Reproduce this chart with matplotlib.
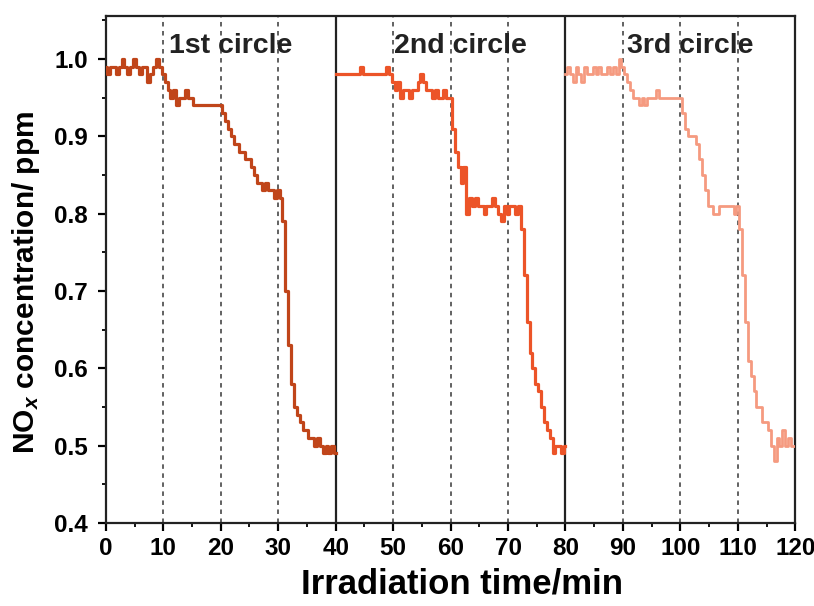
import numpy as np
import matplotlib
matplotlib.use('Agg')
import matplotlib.pyplot as plt
from matplotlib.ticker import MultipleLocator

plt.rcParams['font.family'] = ['Liberation Sans', 'DejaVu Sans']
plt.rcParams['font.weight'] = 'bold'
plt.rcParams['mathtext.fontset'] = 'custom'
plt.rcParams['mathtext.rm'] = 'Liberation Sans:bold'
plt.rcParams['mathtext.it'] = 'Liberation Sans:bold:italic'

# sampling: every 0.5 min within each 40 min cycle
step = 0.5

conc_1st = [
    0.99, 0.98, 0.99, 0.99, 0.98, 0.99, 1.00, 0.99, 0.98, 0.99,
    1.00, 0.99, 0.98, 0.99, 0.99, 0.97, 0.98, 0.99, 1.00, 0.99,
    0.98, 0.97, 0.96, 0.95, 0.96, 0.94, 0.95, 0.95, 0.96, 0.95,
    0.95, 0.94, 0.94, 0.94, 0.94, 0.94, 0.94, 0.94, 0.94, 0.94,
    0.94, 0.93, 0.92, 0.91, 0.90, 0.89, 0.89, 0.88, 0.88, 0.87,
    0.87, 0.86, 0.85, 0.84, 0.84, 0.83, 0.84, 0.83, 0.83, 0.82,
    0.83, 0.82, 0.79, 0.70, 0.63, 0.58, 0.55, 0.54, 0.53, 0.52,
    0.52, 0.51, 0.51, 0.50, 0.51, 0.50, 0.49, 0.50, 0.49, 0.50,
    0.49,
]

conc_2nd = [
    0.98, 0.98, 0.98, 0.98, 0.98, 0.98, 0.98, 0.98, 0.98, 0.99,
    0.98, 0.98, 0.98, 0.98, 0.98, 0.98, 0.98, 0.98, 0.99, 0.98,
    0.97, 0.96, 0.97, 0.95, 0.96, 0.96, 0.95, 0.96, 0.96, 0.97,
    0.98, 0.97, 0.96, 0.96, 0.95, 0.96, 0.95, 0.95, 0.96, 0.95,
    0.95, 0.91, 0.88, 0.86, 0.84, 0.86, 0.80, 0.82, 0.81, 0.82,
    0.81, 0.81, 0.80, 0.81, 0.81, 0.82, 0.81, 0.80, 0.79, 0.81,
    0.80, 0.81, 0.81, 0.80, 0.81, 0.78, 0.72, 0.66, 0.62, 0.60,
    0.58, 0.57, 0.55, 0.53, 0.52, 0.51, 0.49, 0.50, 0.50, 0.49,
    0.50,
]

conc_3rd = [
    0.98, 0.99, 0.98, 0.97, 0.99, 0.98, 0.97, 0.99, 0.98, 0.98,
    0.99, 0.98, 0.99, 0.98, 0.98, 0.99, 0.98, 0.99, 0.98, 1.00,
    0.99, 0.98, 0.97, 0.96, 0.95, 0.95, 0.94, 0.95, 0.94, 0.95,
    0.95, 0.95, 0.96, 0.95, 0.95, 0.95, 0.95, 0.95, 0.95, 0.95,
    0.95, 0.93, 0.91, 0.90, 0.90, 0.90, 0.89, 0.87, 0.85, 0.83,
    0.81, 0.81, 0.80, 0.80, 0.81, 0.81, 0.81, 0.81, 0.81, 0.80,
    0.81, 0.78, 0.72, 0.66, 0.61, 0.59, 0.57, 0.55, 0.55, 0.53,
    0.53, 0.52, 0.50, 0.48, 0.51, 0.50, 0.52, 0.50, 0.51, 0.50,
    0.50,
]

cycle_starts = [0, 40, 80]
cycle_labels = ['1st circle', '2nd circle', '3rd circle']
colors = ['#c0451a', '#ec5428', '#f59a80']
widths = [2.3, 2.3, 2.0]
dashed_x = [10, 20, 30, 50, 60, 70, 90, 100, 110]
solid_x = [40, 80]

fig = plt.figure(figsize=(8.14, 6.06), dpi=100)
ax = fig.add_axes([0.130, 0.137, 0.847, 0.836])

for start, conc, color, lw in zip(cycle_starts, [conc_1st, conc_2nd, conc_3rd],
                                  colors, widths):
    t = start + step * np.arange(len(conc))
    ax.plot(t, conc, color=color, lw=lw, drawstyle='steps-mid', zorder=3)

for x in dashed_x:
    ax.axvline(x, color='#555555', lw=1.3, ls=(0, (2.5, 2.5)), zorder=1)
for x in solid_x:
    ax.axvline(x, color='#222222', lw=1.6, zorder=1)

for start, label in zip(cycle_starts, cycle_labels):
    ax.text(start + 21.8, 1.017, label, ha='center', va='center',
            fontsize=20.5, fontweight='bold', color='#222222', zorder=4)

ax.set_xlim(0, 120)
ax.set_ylim(0.4, 1.055)
ax.xaxis.set_major_locator(MultipleLocator(10))
ax.xaxis.set_minor_locator(MultipleLocator(5))
ax.yaxis.set_major_locator(MultipleLocator(0.1))
ax.yaxis.set_minor_locator(MultipleLocator(0.05))
ax.tick_params(which='major', direction='out', length=6, width=1.6,
               labelsize=17.5, pad=4)
ax.tick_params(axis='y', which='major', pad=7)
ax.tick_params(which='minor', direction='out', length=3, width=1.3)
for lab in ax.get_xticklabels() + ax.get_yticklabels():
    lab.set_fontweight('bold')
for sp in ax.spines.values():
    sp.set_linewidth(1.6)
    sp.set_color('#222222')

ax.set_xlabel('Irradiation time/min', fontsize=25, fontweight='bold')
ax.xaxis.set_label_coords(0.517, -0.088)
ax.set_ylabel(r'NO$_{x}$ concentration/ ppm', fontsize=21.5,
              fontweight='bold')
ax.yaxis.set_label_coords(-0.092, 0.475)

fig.savefig('out.png', dpi=100)
